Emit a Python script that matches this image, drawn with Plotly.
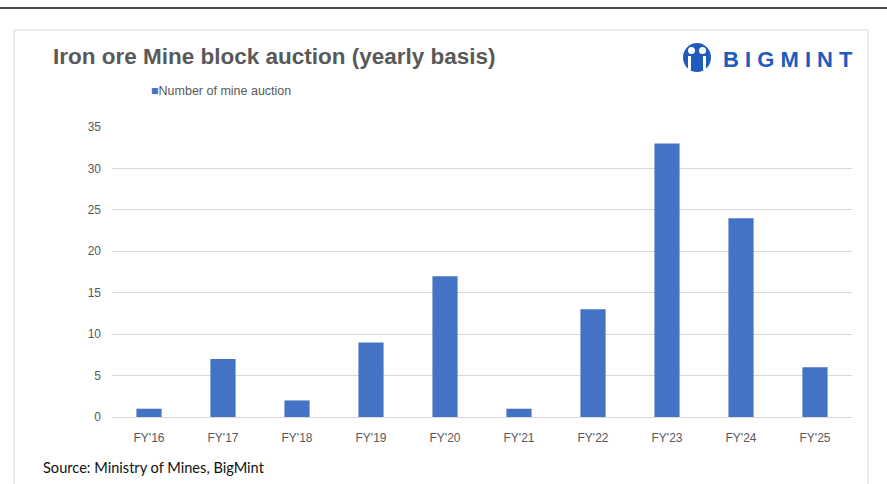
import plotly.graph_objects as go

# 数据
years = ["FY'16", "FY'17", "FY'18", "FY'19", "FY'20", "FY'21", "FY'22", "FY'23", "FY'24", "FY'25"]
auctions = [1, 7, 2, 9, 17, 1, 13, 33, 24, 6]
y_ticks = [0, 5, 10, 15, 20, 25, 30, 35]
series_name = "Number of mine auction"

W, H = 887, 484
BAR = "#4472C4"
GREY = "#595959"
LOGO = "#1f5bbd"

# 绘图区边距（像素）
L, R, T, B = 112, 35, 127, 67
pw, ph = W - L - R, H - T - B


def paper_x(v):
    """像素 x 转 paper 坐标"""
    return (v - L) / pw


def paper_y(v):
    """像素 y（自顶向下）转 paper 坐标"""
    return (H - B - v) / ph


fig = go.Figure()

fig.add_trace(go.Bar(
    x=years,
    y=auctions,
    name=series_name,
    marker=dict(color=BAR, line=dict(width=0)),
    showlegend=False,
))

shapes = [
    # 顶部分隔线
    dict(type="line", xref="paper", yref="paper", x0=paper_x(-5), x1=paper_x(W + 5),
         y0=paper_y(8), y1=paper_y(8), line=dict(color="#4d4d4d", width=2)),
    # 卡片外框
    dict(type="rect", xref="paper", yref="paper", x0=paper_x(14), x1=paper_x(868),
         y0=paper_y(30), y1=paper_y(500), line=dict(color="#d9d9d9", width=1)),
    # logo 圆形图标
    dict(type="circle", xref="paper", yref="paper", x0=paper_x(683), x1=paper_x(711),
         y0=paper_y(43), y1=paper_y(72), fillcolor=LOGO, line=dict(width=0)),
    dict(type="circle", xref="paper", yref="paper", x0=paper_x(688), x1=paper_x(695),
         y0=paper_y(47), y1=paper_y(54), fillcolor="white", line=dict(width=0)),
    dict(type="circle", xref="paper", yref="paper", x0=paper_x(699), x1=paper_x(706),
         y0=paper_y(47), y1=paper_y(54), fillcolor="white", line=dict(width=0)),
    dict(type="rect", xref="paper", yref="paper", x0=paper_x(688), x1=paper_x(691),
         y0=paper_y(56), y1=paper_y(70), fillcolor="white", line=dict(width=0)),
    dict(type="rect", xref="paper", yref="paper", x0=paper_x(703), x1=paper_x(706),
         y0=paper_y(56), y1=paper_y(70), fillcolor="white", line=dict(width=0)),
]

annotations = [
    dict(text="<b>Iron ore Mine block auction (yearly basis)</b>", xref="paper", yref="paper",
         x=paper_x(51), y=paper_y(57), xanchor="left", yanchor="middle", showarrow=False,
         font=dict(family="Liberation Sans, Arial", size=22.5, color=GREY)),
    dict(text="<b>B I G M I N T</b>", xref="paper", yref="paper",
         x=paper_x(721), y=paper_y(59), xanchor="left", yanchor="middle", showarrow=False,
         font=dict(family="Liberation Sans, Arial", size=22, color=LOGO)),
    # 图例
    dict(text=f"<span style='color:{BAR}'>■</span>{series_name}", xref="paper", yref="paper",
         x=paper_x(149), y=paper_y(91), xanchor="left", yanchor="middle", showarrow=False,
         font=dict(family="Liberation Sans, Arial", size=12.5, color=GREY)),
    dict(text="Source: Ministry of Mines, BigMint", xref="paper", yref="paper",
         x=paper_x(41), y=paper_y(467), xanchor="left", yanchor="middle", showarrow=False,
         font=dict(family="Lato, Carlito, sans-serif", size=14.6, color="#111111")),
]

fig.update_layout(
    width=W,
    height=H,
    margin=dict(l=L, r=R, t=T, b=B),
    paper_bgcolor="white",
    plot_bgcolor="white",
    bargap=0.66,
    font=dict(family="Liberation Sans, Arial", size=12, color=GREY),
    showlegend=False,
    shapes=shapes,
    annotations=annotations,
    xaxis=dict(
        showgrid=False,
        showline=True,
        linecolor="#d9d9d9",
        linewidth=1,
        ticks="",
        ticklabelstandoff=10,
        tickfont=dict(size=12, color=GREY),
        fixedrange=True,
    ),
    yaxis=dict(
        range=[0, 35],
        tickvals=y_ticks,
        showgrid=True,
        gridcolor="#d9d9d9",
        gridwidth=1,
        zeroline=False,
        showline=False,
        ticks="",
        ticklabelstandoff=10,
        tickfont=dict(size=12, color=GREY),
        fixedrange=True,
    ),
)

# 去掉页面默认 body 边距，使图表贴齐窗口
fig.write_html(
    "out.html",
    config={"displayModeBar": False},
    post_script="document.body.style.margin='0';",
)
